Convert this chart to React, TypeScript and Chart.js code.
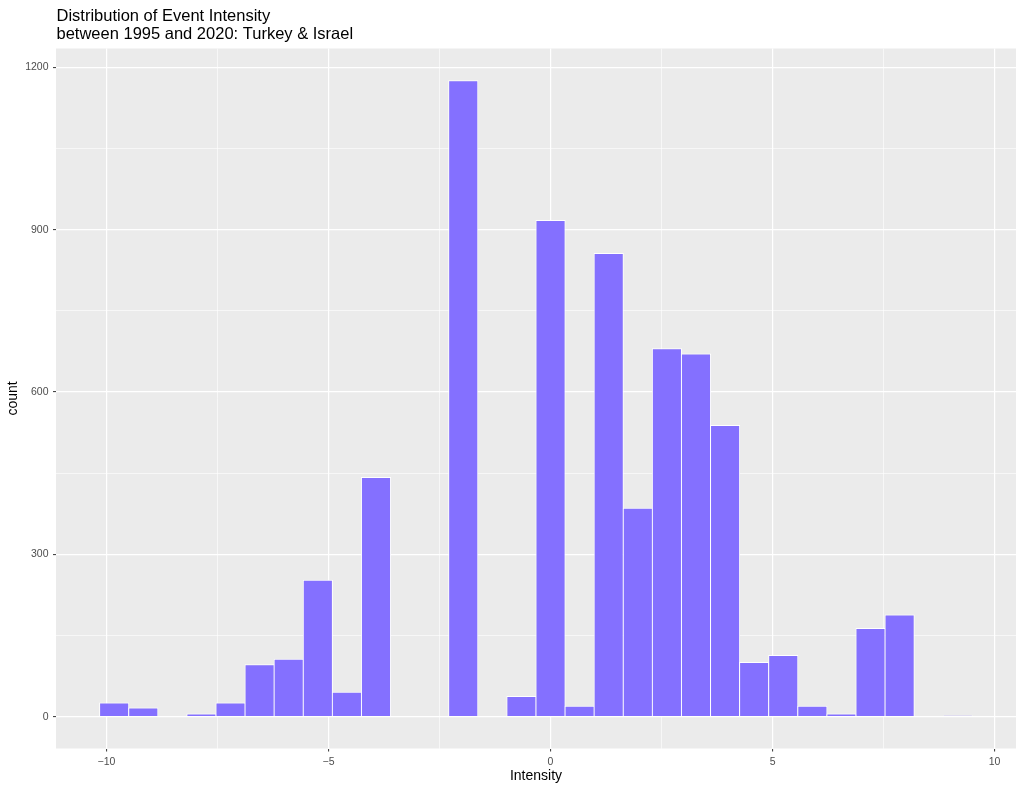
import React, { useEffect, useRef } from "react";
import { Chart, registerables } from "chart.js";

Chart.register(...registerables);

// Histogram bin centres (ggplot bins = 30, width = 19/29)
const binCenters = [
  -9.828, -9.172, -8.517, -7.862, -7.207, -6.552, -5.897, -5.241, -4.586, -3.931,
  -3.276, -2.621, -1.966, -1.31, -0.655, 0, 0.655, 1.31, 1.966, 2.621,
  3.276, 3.931, 4.586, 5.241, 5.897, 6.552, 7.207, 7.862, 8.517, 9.172,
];
const counts = [
  26, 17, 0, 6, 26, 97, 107, 253, 46, 443,
  0, 0, 1176, 0, 38, 918, 20, 857, 386, 681,
  671, 539, 101, 114, 20, 6, 164, 189, 0, 2,
];

const xTickValues = [-10, -7.5, -5, -2.5, 0, 2.5, 5, 7.5, 10];
const xMajorTicks = [-10, -5, 0, 5, 10];
const xTickLabels = ["\u221210", "\u22125", "0", "5", "10"];
const yTickValues = [0, 150, 300, 450, 600, 750, 900, 1050, 1200];
const yMajorTicks = [0, 300, 600, 900, 1200];
const yTickLabels = ["0", "300", "600", "900", "1200"];

const titleLines = ["Distribution of Event Intensity", "between 1995 and 2020: Turkey & Israel"];
const xTitle = "Intensity";
const yTitle = "count";

const FONT = '"Liberation Sans", Arial, Helvetica, sans-serif';

export default function App() {
  const ref = useRef<HTMLCanvasElement | null>(null);

  useEffect(() => {
    document.body.style.margin = "0";
    const canvas = ref.current;
    if (!canvas) return;

    const panelPlugin = {
      id: "panelBg",
      beforeDraw(chart: any) {
        const { ctx, chartArea } = chart;
        ctx.save();
        ctx.fillStyle = "#EBEBEB";
        ctx.fillRect(chartArea.left, chartArea.top, chartArea.right - chartArea.left, chartArea.bottom - chartArea.top);
        ctx.restore();
      },
      afterDraw(chart: any) {
        const { ctx } = chart;
        ctx.save();
        ctx.fillStyle = "#000000";
        ctx.font = `16.5px ${FONT}`;
        ctx.textAlign = "left";
        ctx.textBaseline = "alphabetic";
        ctx.fillText(titleLines[0], 56.5, 20.5);
        ctx.fillText(titleLines[1], 56.5, 38.5);
        ctx.restore();
      },
    };

    const isMajorX = (v: number) => xMajorTicks.includes(v);
    const isMajorY = (v: number) => yMajorTicks.includes(v);

    const chart = new Chart(canvas, {
      type: "bar",
      data: {
        datasets: [
          {
            data: binCenters.map((x, i) => ({ x, y: counts[i] })),
            backgroundColor: "#8470FF",
            borderColor: "#FFFFFF",
            borderWidth: 1,
            barPercentage: 1.035,
            categoryPercentage: 1,
          },
        ],
      },
      options: {
        animation: false,
        responsive: false,
        devicePixelRatio: 1,
        layout: { padding: { top: 48.5, right: 8, bottom: 0, left: 0 } },
        plugins: {
          legend: { display: false },
          tooltip: { enabled: false },
          title: { display: false },
        },
        scales: {
          x: {
            type: "linear",
            min: -11.138,
            max: 10.483,
            offset: false,
            afterFit(scale: any) {
              scale.height = 42.5;
            },
            afterBuildTicks(scale: any) {
              scale.ticks = xTickValues.map((v) => ({ value: v }));
            },
            grid: {
              offset: false,
              color: "#FFFFFF",
              lineWidth: (c: any) => (c.tick && isMajorX(c.tick.value) ? 1.2 : 0.6),
              drawTicks: true,
              tickLength: 3,
              tickWidth: 1,
              tickColor: (c: any) => (c.tick && isMajorX(c.tick.value) ? "#333333" : "rgba(0,0,0,0)"),
            },
            border: { display: false },
            ticks: {
              autoSkip: false,
              maxRotation: 0,
              padding: 4,
              color: "#4D4D4D",
              font: { family: FONT, size: 10.5 },
              callback: (v: any) => {
                const idx = xMajorTicks.indexOf(Number(v));
                return idx >= 0 ? xTickLabels[idx] : "";
              },
            },
            title: {
              display: true,
              text: xTitle,
              color: "#000000",
              font: { family: FONT, size: 14 },
              padding: { top: 0, bottom: 6 },
            },
          },
          y: {
            type: "linear",
            min: -58.8,
            max: 1234.8,
            afterFit(scale: any) {
              scale.width = 56;
            },
            afterBuildTicks(scale: any) {
              scale.ticks = yTickValues.map((v) => ({ value: v }));
            },
            grid: {
              color: "#FFFFFF",
              lineWidth: (c: any) => (c.tick && isMajorY(c.tick.value) ? 1.2 : 0.6),
              drawTicks: true,
              tickLength: 3,
              tickWidth: 1,
              tickColor: (c: any) => (c.tick && isMajorY(c.tick.value) ? "#333333" : "rgba(0,0,0,0)"),
            },
            border: { display: false },
            ticks: {
              autoSkip: false,
              padding: 4.5,
              color: "#4D4D4D",
              font: { family: FONT, size: 10.5 },
              callback: (v: any) => {
                const idx = yMajorTicks.indexOf(Number(v));
                return idx >= 0 ? yTickLabels[idx] : "";
              },
            },
            title: {
              display: true,
              text: yTitle,
              color: "#000000",
              font: { family: FONT, size: 14 },
              padding: { top: 4.5, bottom: 0 },
            },
          },
        },
      },
      plugins: [panelPlugin],
    } as any);

    return () => {
      chart.destroy();
    };
  }, []);

  return <canvas ref={ref} width={1024} height={791} style={{ display: "block", width: 1024, height: 791 }} />;
}
